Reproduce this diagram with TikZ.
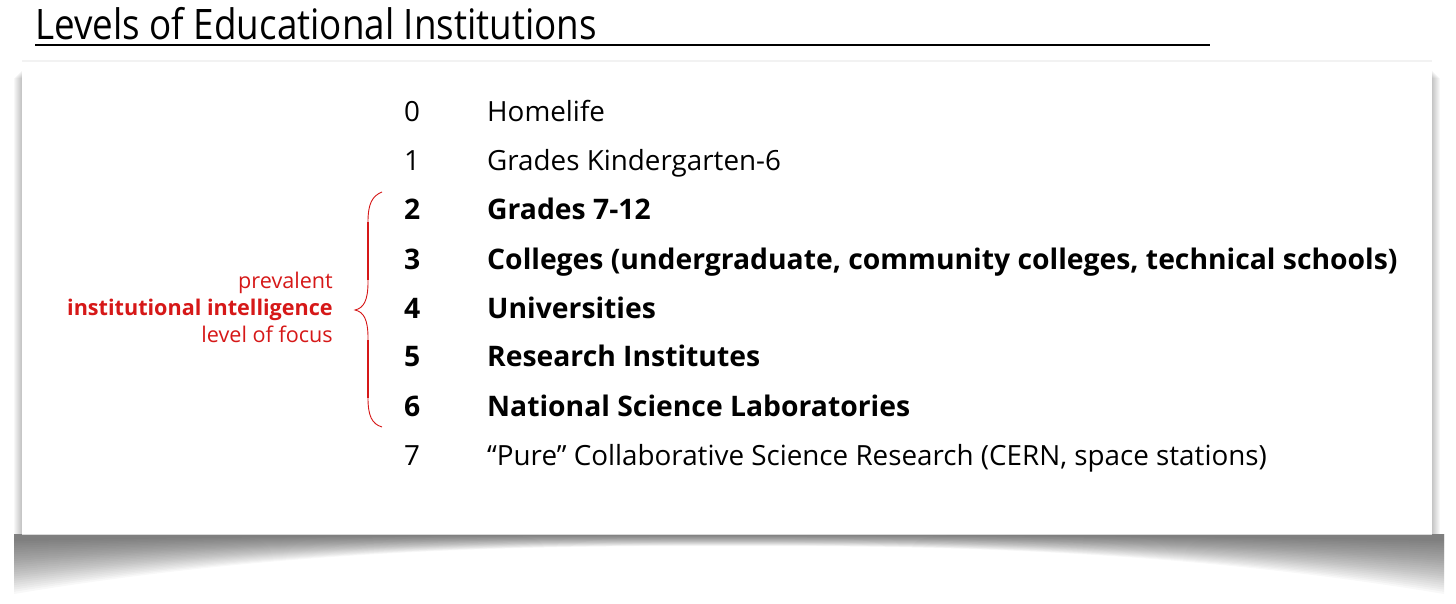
\documentclass[tikz,border=0pt]{standalone}
\usepackage{fontspec}
\setmainfont{Open Sans}
\usepackage{graphicx}
\definecolor{accent}{RGB}{214,24,24}
\begin{document}
\begin{tikzpicture}[x=1pt,y=-1pt,
  num/.style={anchor=base west,inner sep=0pt,font=\fontsize{27.8}{32}\selectfont},
  lbl/.style={anchor=base west,inner sep=0pt,font=\fontsize{27.8}{32}\selectfont},
  strong/.style={font=\fontsize{28.3}{32}\selectfont\bfseries},
  note/.style={anchor=base east,inner sep=0pt,text=accent,font=\fontsize{21.6}{24}\selectfont}]
\useasboundingbox (0,0) rectangle (1456,604);
% title
\node[anchor=base west,inner sep=0pt] (title) at (35,40) {\scalebox{0.876}[1]{\fontsize{42}{48}\selectfont Levels of Educational Institutions}};
\draw[line width=2pt] (35,45) -- (1210,45);
% shadow
\foreach \i in {0,...,24}{
  \pgfmathsetmacro{\yb}{594-2.2*\i}
  \pgfmathsetmacro{\ym}{546-0.45*\i}
  \fill[black,opacity=0.028] (14,534) -- (14,\yb) .. controls (300,\ym) and (560,\ym) .. (728,\ym) .. controls (896,\ym) and (1156,\ym) .. (1444,\yb) -- (1444,534) -- cycle;
}
\foreach \i in {0,...,8}{
  \fill[black,opacity=0.03] (22-\i,70+\i) rectangle (22,534);
  \fill[black,opacity=0.03] (1432,70+\i) rectangle (1432+\i,534);
}
\fill[black,opacity=0.05] (22,60) rectangle (1432,62);
\fill[white] (22,62) rectangle (1432,534);
\draw[black!15,line width=0.6pt] (22,534) -- (1432,534);
% rows
\node[num] (n0) at (404,122) {0};
\node[lbl] (t0) at (487,122) {Homelife};
\node[num] (n1) at (404,171) {1};
\node[lbl] (t1) at (487,171) {Grades Kindergarten-6};
\node[num,strong] (n2) at (404,220) {2};
\node[lbl,strong] (t2) at (487,220) {Grades 7-12};
\node[num,strong] (n3) at (404,269) {3};
\node[lbl,strong] (t3) at (487,269) {Colleges (undergraduate, community colleges, technical schools)};
\node[num,strong] (n4) at (404,318) {4};
\node[lbl,strong] (t4) at (487,318) {Universities};
\node[num,strong] (n5) at (404,366) {5};
\node[lbl,strong] (t5) at (487,366) {Research Institutes};
\node[num,strong] (n6) at (404,416) {6};
\node[lbl,strong] (t6) at (487,416) {National Science Laboratories};
\node[num] (n7) at (404,465) {7};
\node[lbl] (t7) at (487,465) {“Pure” Collaborative Science Research (CERN, space stations)};
% red notes
\node[note] (p1) at (333,288) {prevalent};
\node[note,font=\fontsize{21.6}{24}\selectfont\bfseries] (p2) at (333,315) {institutional intelligence};
\node[note] (p3) at (333,342) {level of focus};
% brace
\coordinate (btop) at (382,192);
\coordinate (btip) at (355,310);
\coordinate (bbot) at (382,427);
\draw[accent,line width=0.9pt] (btop) .. controls (372,196) and (368,204) .. (368,222)
  -- (368,282) .. controls (368,300) and (364,308) .. (btip)
  .. controls (364,312) and (368,320) .. (368,338)
  -- (368,398) .. controls (368,416) and (372,424) .. (bbot);
\draw[accent,line width=2.4pt] (368,222) -- (368,280);
\draw[accent,line width=2.4pt] (368,340) -- (368,398);
\end{tikzpicture}
\end{document}
